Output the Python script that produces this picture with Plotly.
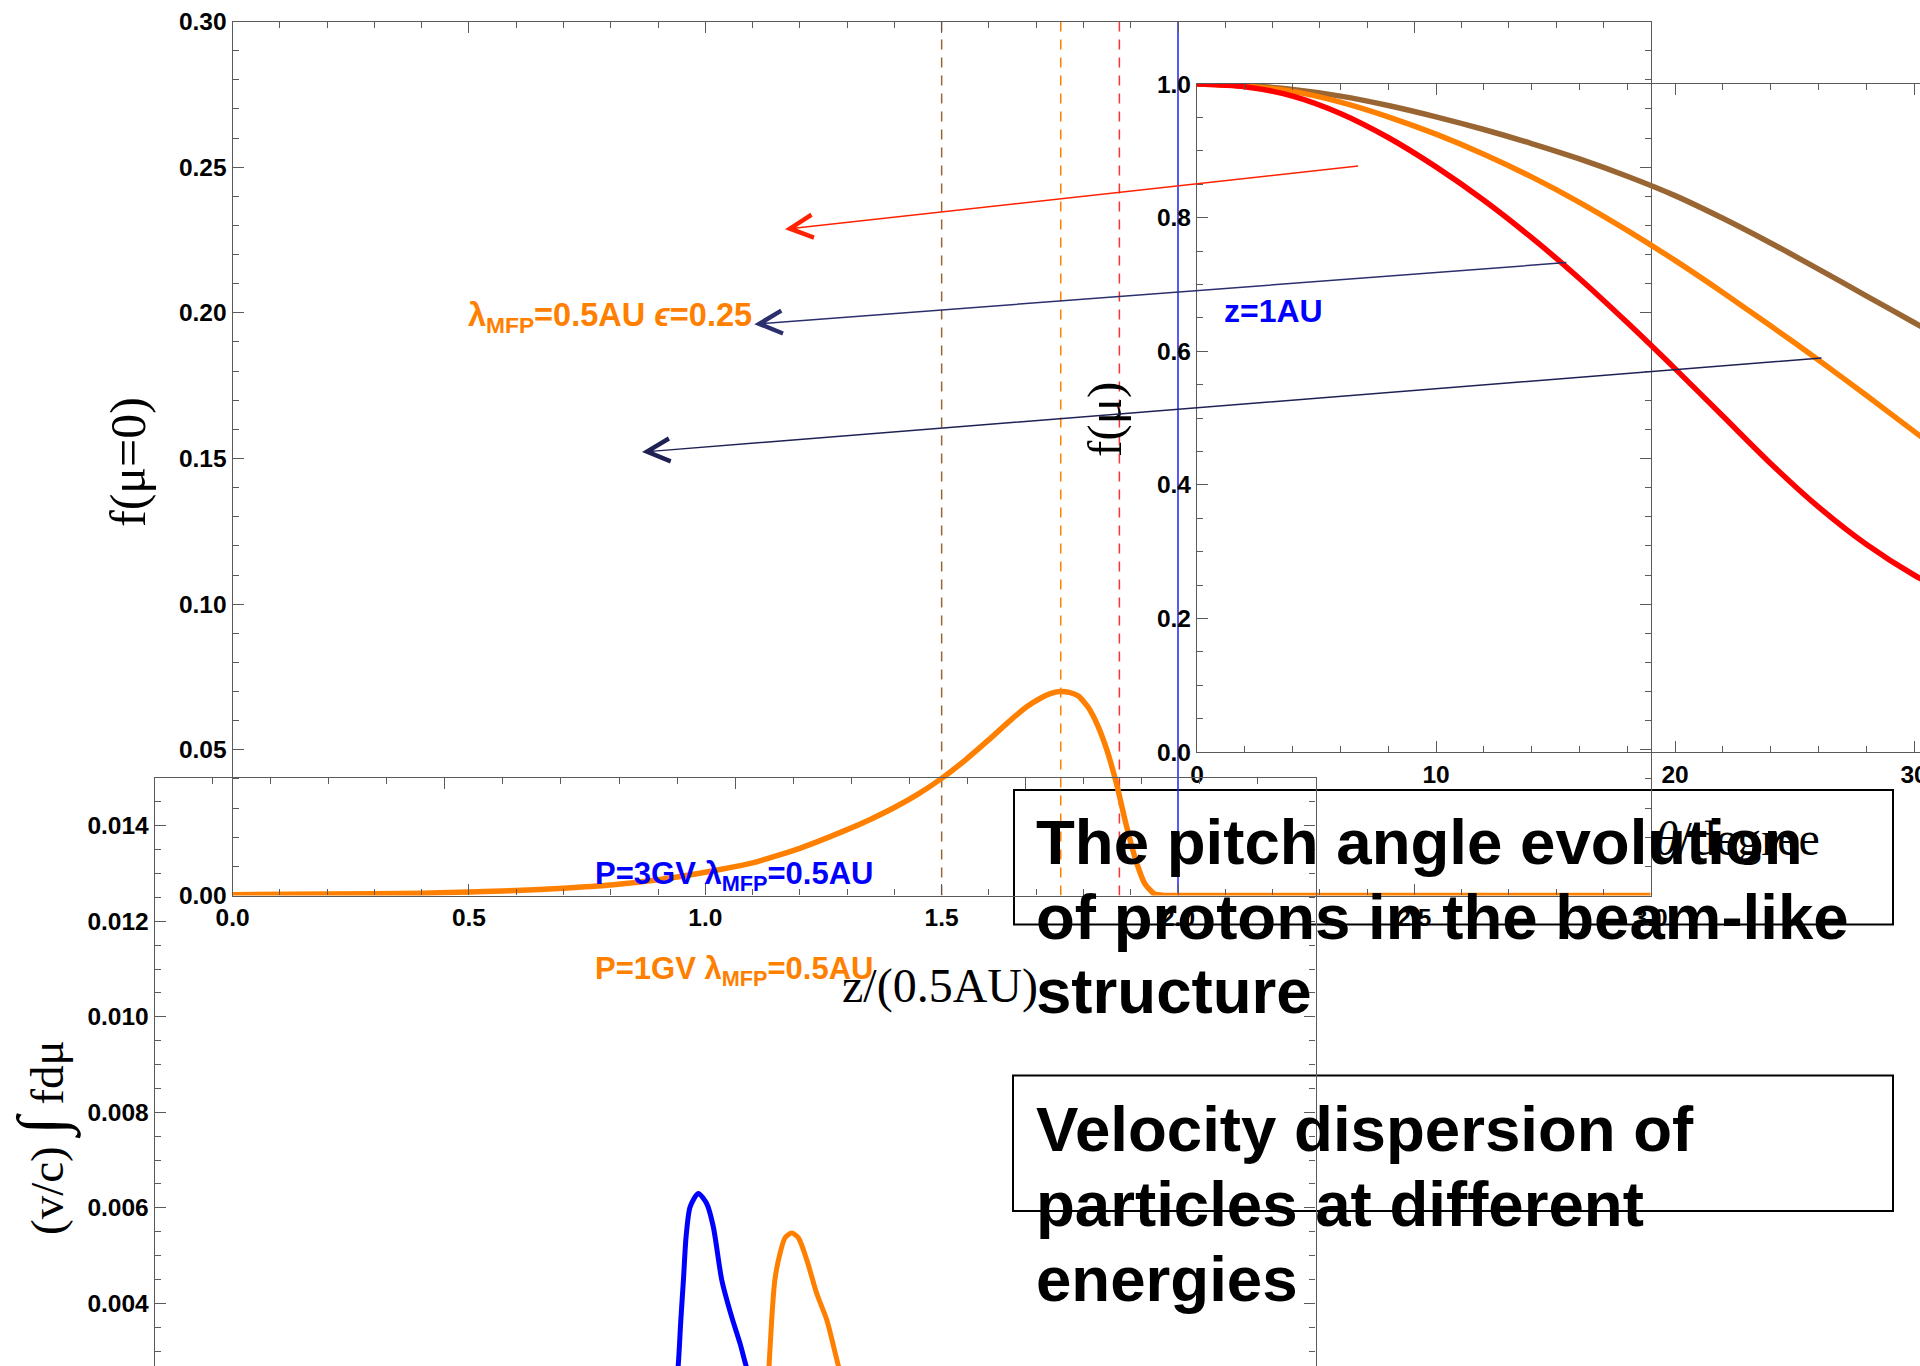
import plotly.graph_objects as go

W, H = 1920, 1366

# ---------------- data ----------------
# f(mu=0) along the field line, z in units of 0.5 AU
z_main = [0.0, 0.2, 0.4, 0.6, 0.7, 0.8, 0.9, 1.0, 1.1, 1.2, 1.3, 1.35, 1.4,
          1.45, 1.5, 1.55, 1.6, 1.65, 1.68, 1.71, 1.73, 1.75, 1.77, 1.79,
          1.81, 1.83, 1.85, 1.87, 1.89, 1.91, 1.93, 1.95, 1.97, 2.0, 2.5, 3.0]
f_main = [0.0003, 0.0005, 0.0008, 0.0017, 0.0025, 0.0036, 0.0054, 0.0080,
          0.0112, 0.0162, 0.0226, 0.0262, 0.0302, 0.0348, 0.0402, 0.0465,
          0.0535, 0.0608, 0.0648, 0.0678, 0.0693, 0.0700, 0.0697, 0.0684,
          0.0646, 0.0584, 0.0497, 0.0383, 0.0245, 0.0125, 0.0040, 0.0005,
          0.0, 0.0, 0.0, 0.0]

# positions sampled in the inset (z / 0.5AU) and the z = 1 AU marker
z_samples = [1.5, 1.752, 1.876]
z_1au = 2.0

# pitch-angle distributions f(mu) at the three sampled positions
theta_deg = [0, 2, 4, 6, 8, 10, 12, 14, 16, 18, 20, 22, 24, 26, 28, 30, 32]
f_mu_brown = [1.000, 0.998, 0.992, 0.982, 0.968, 0.951, 0.932, 0.911, 0.888,
              0.862, 0.833, 0.799, 0.762, 0.723, 0.683, 0.643, 0.603]
f_mu_orange = [1.000, 0.997, 0.989, 0.973, 0.951, 0.925, 0.895, 0.861, 0.823,
               0.781, 0.736, 0.688, 0.638, 0.587, 0.534, 0.480, 0.426]
f_mu_red = [1.000, 0.996, 0.982, 0.956, 0.920, 0.876, 0.826, 0.770, 0.709,
            0.643, 0.574, 0.503, 0.432, 0.367, 0.311, 0.265, 0.228]

# velocity-integrated flux at z = 1 AU for two rigidities
t_3gv = [1.78, 1.795, 1.804, 1.813, 1.822, 1.831, 1.845, 1.873, 1.902, 1.925,
         1.954, 1.988, 2.017, 2.038, 2.06, 2.09]
flux_3gv = [0.0012, 0.0022, 0.0027, 0.00365, 0.00449, 0.00539, 0.00602,
            0.00630, 0.00609, 0.00560, 0.00449, 0.00372, 0.00316, 0.00269,
            0.0023, 0.0019]
t_1gv = [2.10, 2.112, 2.117, 2.126, 2.137, 2.155, 2.172, 2.195, 2.218, 2.247,
         2.281, 2.316, 2.356, 2.38, 2.41]
flux_1gv = [0.0012, 0.0023, 0.00269, 0.00365, 0.00449, 0.00505, 0.00537,
            0.00547, 0.00537, 0.00491, 0.00421, 0.00365, 0.00269, 0.0022,
            0.0018]

# ---------------- styling ----------------
ORANGE = "#FF8000"
BROWN = "#996633"
RED = "#FF0000"
BLUE = "#0000FF"
AX = "#5a5a5a"
SANS = "Liberation Sans"
SERIF = "Liberation Serif"
TICKFONT = dict(family=SANS, size=24.5, color="black", weight="bold")


def px(X):
    return X / W


def py(Y):
    return 1 - Y / H


fig = go.Figure()

# main panel curve
fig.add_trace(go.Scatter(x=z_main, y=f_main, mode="lines", xaxis="x", yaxis="y",
                         line=dict(color=ORANGE, width=5.5, shape="spline", smoothing=0.5),
                         cliponaxis=False, hoverinfo="skip"))

# inset curves
for vals, col in [(f_mu_brown, BROWN), (f_mu_orange, ORANGE), (f_mu_red, RED)]:
    fig.add_trace(go.Scatter(x=theta_deg, y=vals, mode="lines", xaxis="x2", yaxis="y2",
                             line=dict(color=col, width=5.5, shape="spline", smoothing=0.8),
                             cliponaxis=False, hoverinfo="skip"))

# lower panel curves
fig.add_trace(go.Scatter(x=t_3gv, y=flux_3gv, mode="lines", xaxis="x3", yaxis="y3",
                         line=dict(color=BLUE, width=5, shape="spline", smoothing=0.7),
                         hoverinfo="skip"))
fig.add_trace(go.Scatter(x=t_1gv, y=flux_1gv, mode="lines", xaxis="x3", yaxis="y3",
                         line=dict(color=ORANGE, width=5, shape="spline", smoothing=0.7),
                         hoverinfo="skip"))


def frame_axis(**kw):
    base = dict(showgrid=False, zeroline=False, showline=True, linecolor=AX,
                linewidth=1.2, ticks="inside", tickcolor=AX, tickwidth=1.2,
                ticklen=11, tickfont=TICKFONT, automargin=False,
                ticklabeloverflow="allow")
    base.update(kw)
    return base


def minor(dt):
    return dict(dtick=dt, tick0=0, ticks="inside", ticklen=6, tickcolor=AX, tickwidth=1)


fig.update_layout(
    width=W, height=H,
    margin=dict(l=0, r=0, t=0, b=0, pad=0, autoexpand=False),
    paper_bgcolor="white",
    plot_bgcolor="rgba(0,0,0,0)",
    showlegend=False,
    font=dict(family=SANS),
    # main panel
    xaxis=frame_axis(domain=[px(232.6), px(1650.7)], range=[0, 3], dtick=0.5,
                     tick0=0, tickformat=".1f", minor=minor(0.1), mirror="ticks",
                     anchor="y"),
    yaxis=frame_axis(domain=[py(895.5), py(21.5)], range=[0, 0.3000001], dtick=0.05,
                     tick0=0, tickformat=".2f", minor=minor(0.01), mirror="ticks",
                     anchor="x"),
    # inset
    xaxis2=frame_axis(domain=[px(1197), 1.0], range=[0, 30.25], dtick=10, tick0=0,
                      tickformat="d", minor=minor(2), mirror="ticks", anchor="y2"),
    yaxis2=frame_axis(domain=[py(752), py(84)], range=[0, 1.0001], dtick=0.2, tick0=0,
                      tickformat=".1f", minor=minor(0.05), anchor="x2"),
    # lower panel
    xaxis3=frame_axis(domain=[px(154.7), px(1315.5)], range=[0, 4], dtick=1, tick0=0,
                      side="top", showticklabels=False, minor=minor(0.2), anchor="y3"),
    yaxis3=frame_axis(domain=[0, py(778)], range=[0.002687, 0.015], dtick=0.002,
                      tick0=0, tickformat=".3f", minor=minor(0.0005), mirror="ticks",
                      anchor="x3"),
)

# vertical markers in the main panel
shapes = []
for zc, col in zip(z_samples, [BROWN, ORANGE, "#FF3030"]):
    shapes.append(dict(type="line", xref="x", yref="y", x0=zc, x1=zc, y0=0, y1=0.3,
                       line=dict(color=col, width=1.5, dash="10px,8px"), layer="below"))
shapes.append(dict(type="line", xref="x", yref="y", x0=z_1au, x1=z_1au, y0=0, y1=0.3,
                   line=dict(color="#2020FF", width=1.5), layer="below"))
# caption boxes
shapes.append(dict(type="rect", xref="paper", yref="paper", x0=px(1014), x1=px(1893),
                   y0=py(924.5), y1=py(790), line=dict(color="black", width=2),
                   layer="below"))
shapes.append(dict(type="rect", xref="paper", yref="paper", x0=px(1013), x1=px(1893),
                   y0=py(1211), y1=py(1075.5), line=dict(color="black", width=2),
                   layer="below"))
fig.update_layout(shapes=shapes)

ann = []


def label(text, X, Y, size, color="black", family=SANS, weight="normal",
          xanchor="left", angle=0):
    ann.append(dict(text=text, xref="paper", yref="paper", x=px(X), y=py(Y),
                    xanchor=xanchor, yanchor="middle", showarrow=False, textangle=angle,
                    font=dict(family=family, size=size, color=color, weight=weight)))


# curve labels
label("λ<sub>MFP</sub>=0.5AU <i>ϵ</i>=0.25", 466, 318, 32.5, ORANGE, weight="bold")
label("z=1AU", 1222, 311, 32, BLUE, weight="bold")
label("P=3GV λ<sub>MFP</sub>=0.5AU", 593, 876, 31, BLUE, weight="bold")
label("P=1GV λ<sub>MFP</sub>=0.5AU", 593, 971, 31, ORANGE, weight="bold")

# axis titles
label("f(μ=0)", 128, 462, 50, family=SERIF, xanchor="center", angle=-90)
label("(v/c) <span style='font-size:66px'>∫</span> fdμ", 42, 1138, 47, family=SERIF,
      xanchor="center", angle=-90)
label("z/(0.5AU)", 940, 986, 48, family=SERIF, xanchor="center")
label("f(μ)", 1104, 420, 49, family=SERIF, xanchor="center", angle=-90)
label("<i>θ</i>/degree", 1737, 839, 48, family=SERIF, xanchor="center")

# captions
for i, line in enumerate(["The pitch angle evolution", "of protons in the beam-like",
                          "structure"]):
    label(line, 1034, 841 + 75 * i, 63.6, weight="bold")
for i, line in enumerate(["Velocity dispersion of", "particles at different",
                          "energies"]):
    label(line, 1034, 1128 + 75 * i, 63.6, weight="bold")

# arrows from the inset curves to their positions on the main panel
for (zt, ft, dx, dy, col) in [(1.1686, 0.2287, 574.6, -63.3, "#FF2200"),
                              (1.1037, 0.1961, 813.5, -61.7, "#2b2f6e"),
                              (0.8661, 0.1522, 1181.0, -94.3, "#1f2154")]:
    ann.append(dict(x=zt, y=ft, xref="x", yref="y", ax=dx, ay=dy, axref="pixel",
                    ayref="pixel", text="", showarrow=True, arrowhead=5,
                    arrowwidth=1.5, arrowsize=3.0, arrowcolor=col))

fig.update_layout(annotations=ann)

fig.write_html("out.html")
